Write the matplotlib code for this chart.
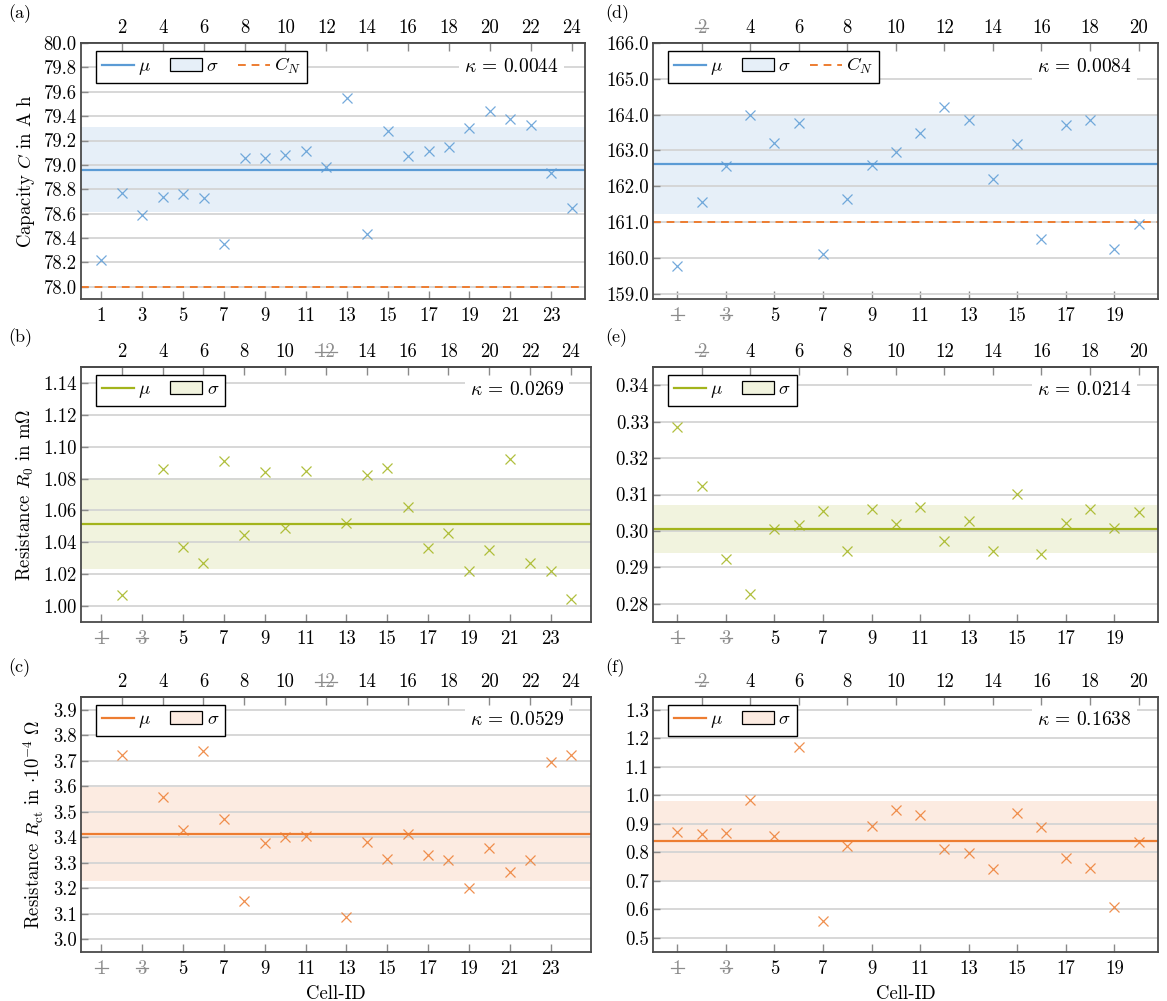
import matplotlib
matplotlib.use('Agg')
import matplotlib.pyplot as plt
from matplotlib.lines import Line2D
from matplotlib.patches import Patch
from matplotlib.ticker import FormatStrFormatter

plt.rcParams['font.family'] = 'serif'
plt.rcParams['font.serif'] = ['cmr10']
plt.rcParams['mathtext.fontset'] = 'cm'
plt.rcParams['axes.formatter.use_mathtext'] = True
plt.rcParams['font.size'] = 13
plt.rcParams['axes.unicode_minus'] = False

# ---- data -----------------------------------------------------------------
cells_a = list(range(1, 25))
cap_a = [78.22, 78.77, 78.59, 78.74, 78.76, 78.73, 78.35, 79.06, 79.06, 79.08,
         79.11, 78.98, 79.55, 78.43, 79.28, 79.07, 79.11, 79.15, 79.30, 79.44,
         79.38, 79.33, 78.93, 78.65]
cells_bc = [2, 4, 5, 6, 7, 8, 9, 10, 11, 13, 14, 15, 16, 17, 18, 19, 20, 21,
            22, 23, 24]
r0_b = [1.0067, 1.0861, 1.0370, 1.0272, 1.0909, 1.0445, 1.0842, 1.0489,
        1.0850, 1.0522, 1.0825, 1.0867, 1.0623, 1.0362, 1.0460, 1.0219,
        1.0353, 1.0924, 1.0272, 1.0219, 1.0042]
rct_c = [3.722, 3.557, 3.428, 3.737, 3.470, 3.150, 3.379, 3.402, 3.406,
         3.089, 3.380, 3.316, 3.411, 3.332, 3.310, 3.202, 3.358, 3.264,
         3.311, 3.695, 3.721]

cells_def = list(range(1, 21))
cap_d = [159.78, 161.57, 162.57, 163.98, 163.22, 163.77, 160.12, 161.64,
         162.60, 162.95, 163.49, 164.22, 163.86, 162.21, 163.19, 160.52,
         163.72, 163.86, 160.26, 160.94]
r0_e = [0.3284, 0.3124, 0.2922, 0.2826, 0.3005, 0.3015, 0.3055, 0.2944,
        0.3059, 0.3018, 0.3067, 0.2972, 0.3028, 0.2946, 0.3102, 0.2936,
        0.3023, 0.3061, 0.3009, 0.3053]
rct_f = [0.871, 0.863, 0.867, 0.982, 0.858, 1.171, 0.558, 0.821, 0.892,
         0.948, 0.930, 0.812, 0.798, 0.740, 0.939, 0.888, 0.779, 0.744,
         0.608, 0.837]

# mean / standard deviation / coefficient of variation per panel
mu = {'a': 78.961, 'b': 1.0516, 'c': 3.414, 'd': 162.61, 'e': 0.3005, 'f': 0.841}
sd = {'a': 0.351, 'b': 0.0285, 'c': 0.184, 'd': 1.38, 'e': 0.00655, 'f': 0.140}
kappa = {'a': '0.0044', 'b': '0.0269', 'c': '0.0529',
         'd': '0.0084', 'e': '0.0214', 'f': '0.1638'}
nominal = {'a': 78.0, 'd': 161.0}

# struck-out (excluded) cell ids, per panel
struck = {'a': [], 'b': [1, 3, 12], 'c': [1, 3, 12],
          'd': [1, 2, 3], 'e': [1, 2, 3], 'f': [1, 2, 3]}

BLUE, BLUE_FILL = '#5b9bd5', '#e6eff8'
OLIVE, OLIVE_FILL = '#a3b41c', '#f1f3de'
ORANGE, ORANGE_FILL = '#ed7d31', '#fcebe1'
GRID = '#d4d4d4'
SPINE = '#4a4a4a'
TICKFS = 13.5

W, H = 1167, 1001
fig = plt.figure(figsize=(W / 100, H / 100), dpi=100)


def add_axes(left, top, right, bottom):
    return fig.add_axes([left / W, 1 - bottom / H, (right - left) / W,
                         (bottom - top) / H])


panels = [
    # key, box (px), x, y, color, fill, ylim, yticks, fmt, xmax, ylabel
    ('a', (81, 43, 585, 299), cells_a, cap_a, BLUE, BLUE_FILL,
     (77.9, 80.0), [78.0 + 0.2 * i for i in range(11)], '%.1f', 24.65,
     r'Capacity $C$ in A h'),
    ('b', (81, 367, 591, 622), cells_bc, r0_b, OLIVE, OLIVE_FILL,
     (0.99, 1.15), [1.00 + 0.02 * i for i in range(8)], '%.2f', 24.98,
     r'Resistance $R_0$ in m$\Omega$'),
    ('c', (81, 697, 591, 952), cells_bc, rct_c, ORANGE, ORANGE_FILL,
     (2.95, 3.95), [3.0 + 0.1 * i for i in range(10)], '%.1f', 24.98,
     r'Resistance $R_{\mathrm{ct}}$ in $\cdot 10^{-4}\ \Omega$'),
    ('d', (653, 43, 1158, 299), cells_def, cap_d, BLUE, BLUE_FILL,
     (158.85, 166.0), [159.0 + i for i in range(8)], '%.1f', 20.8, None),
    ('e', (653, 367, 1158, 622), cells_def, r0_e, OLIVE, OLIVE_FILL,
     (0.275, 0.345), [0.28 + 0.01 * i for i in range(7)], '%.2f', 20.8, None),
    ('f', (653, 697, 1158, 952), cells_def, rct_f, ORANGE, ORANGE_FILL,
     (0.45, 1.345), [0.5 + 0.1 * i for i in range(9)], '%.1f', 20.8, None),
]

strike_labels = []

for key, box, xs, ys, col, fill, ylim, yticks, fmt, xmax, ylabel in panels:
    ax = add_axes(*box)
    ncell = 24 if xmax > 21 else 20

    ax.axhspan(mu[key] - sd[key], mu[key] + sd[key], color=fill, lw=0,
               zorder=0.1)
    ax.axhline(mu[key], color=col, lw=1.6, zorder=2)
    if key in nominal:
        ax.axhline(nominal[key], color=ORANGE, lw=1.4, ls=(0, (4, 3)),
                   zorder=2)
    ax.plot(xs, ys, 'x', color=col, ms=7, mew=0.9, alpha=0.85, zorder=3)

    ax.set_xlim(0, xmax)
    ax.set_ylim(*ylim)
    ax.set_yticks(yticks)
    ax.yaxis.set_major_formatter(FormatStrFormatter(fmt))
    ax.set_axisbelow(True)
    ax.grid(axis='y', color=GRID, lw=1.3)

    odd = list(range(1, ncell + 1, 2))
    even = list(range(2, ncell + 1, 2))
    ax.set_xticks(odd)
    ax.set_xticklabels([str(c) for c in odd])
    ax.tick_params(axis='x', direction='in', length=6, width=1.0,
                   color='#8a8a8a', pad=6, labelsize=TICKFS)
    ax.tick_params(axis='y', direction='in', length=5, width=1.0,
                   color='#8a8a8a', pad=3, labelsize=TICKFS)
    for s in ax.spines.values():
        s.set_color(SPINE)
        s.set_linewidth(1.3)

    sec = ax.secondary_xaxis('top')
    sec.set_xticks(even)
    sec.set_xticklabels([str(c) for c in even])
    sec.tick_params(axis='x', direction='in', length=6, width=1.0,
                    color='#8a8a8a', pad=4, labelsize=TICKFS)
    sec.spines['top'].set_color(SPINE)
    sec.spines['top'].set_linewidth(1.3)

    for lab in ax.get_xticklabels() + sec.get_xticklabels():
        if int(lab.get_text()) in struck[key]:
            lab.set_color('#8c8c8c')
            strike_labels.append(lab)

    handles = [Line2D([], [], color=col, lw=1.6),
               Patch(facecolor=fill, edgecolor='black', lw=0.9)]
    names = [r'$\mu$', r'$\sigma$']
    if key in nominal:
        handles.append(Line2D([], [], color=ORANGE, lw=1.4, ls=(0, (4, 3))))
        names.append(r'$C_N$')
    leg = ax.legend(handles, names, loc='upper left', ncol=len(handles),
                    bbox_to_anchor=(0.03, 0.97), borderaxespad=0,
                    fancybox=False, framealpha=1, edgecolor='black',
                    handlelength=1.7, handletextpad=0.25, columnspacing=1.0,
                    borderpad=0.3, fontsize=13.5)
    leg.get_frame().set_linewidth(1.0)
    leg.set_zorder(5)

    ax.text(0.948, 0.908, r'$\kappa$ = ' + kappa[key], transform=ax.transAxes,
            ha='right', va='center', fontsize=14, zorder=4,
            bbox=dict(boxstyle='square,pad=0.25', fc='white', ec='none'))

    if ylabel:
        ax.set_ylabel(ylabel, fontsize=13.5, labelpad=5)
    if key in ('c', 'f'):
        ax.set_xlabel('Cell-ID', fontsize=13.5, labelpad=5)

    # panel letter
    lx = 8 if box[0] < 300 else 605
    fig.text(lx / W, 1 - (box[1] - 29) / H, '(%s)' % key,
             ha='left', va='center', fontsize=13)

# strike through the excluded cell ids
fig.canvas.draw()
inv = fig.transFigure.inverted()
for lab in strike_labels:
    bb = lab.get_window_extent()
    (x0, y0), (x1, y1) = inv.transform([(bb.x0 - 1.5, bb.y0),
                                        (bb.x1 + 1.5, bb.y1)])
    ym = y0 + 0.55 * (y1 - y0)
    fig.add_artist(Line2D([x0, x1], [ym, ym], transform=fig.transFigure,
                          color='#8c8c8c', lw=0.9))

fig.savefig('out.png', dpi=100)
